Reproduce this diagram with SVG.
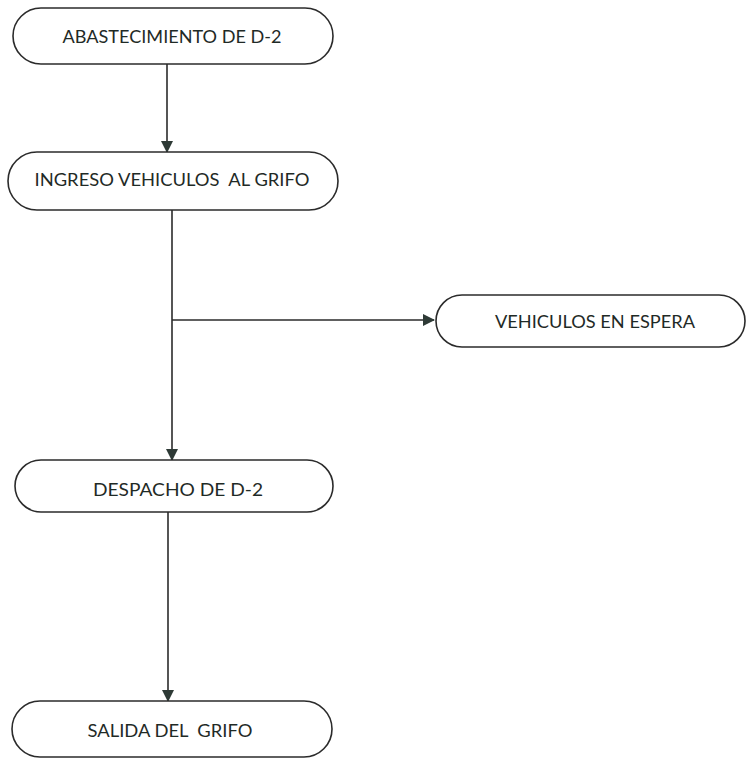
<svg xmlns="http://www.w3.org/2000/svg" width="747" height="760" viewBox="0 0 747 760">
<style>
.box{fill:#fff;stroke:#2b2b2b;stroke-width:1.6}
.lbl{font-family:Lato,"Open Sans","Liberation Sans",sans-serif;font-size:17px;fill:#1f2a26;text-anchor:middle}
.edge{stroke:#2b2b2b;stroke-width:1.6;fill:none}
</style>
<defs>
<marker id="ah" markerWidth="12" markerHeight="12" refX="11" refY="6" orient="auto" markerUnits="userSpaceOnUse">
<path d="M0,0 L12,6 L0,12 Z" fill="#2e3a36"/>
</marker>
</defs>
<rect width="747" height="760" fill="#fff"/>
<g id="connectors">
<line class="edge" x1="167" y1="64" x2="167" y2="152" marker-end="url(#ah)"/>
<line class="edge" x1="172" y1="210" x2="172" y2="460" marker-end="url(#ah)"/>
<line class="edge" x1="172" y1="320" x2="434" y2="320" marker-end="url(#ah)"/>
<line class="edge" x1="168" y1="512" x2="168" y2="701" marker-end="url(#ah)"/>
</g>
<g id="n1">
<rect class="box" x="13" y="8" width="320" height="56" rx="28"/>
<text class="lbl" x="172" y="43" textLength="219" lengthAdjust="spacingAndGlyphs">ABASTECIMIENTO DE D-2</text>
</g>
<g id="n2">
<rect class="box" x="8" y="152" width="330" height="58" rx="29"/>
<text class="lbl" x="172" y="186" textLength="275" lengthAdjust="spacingAndGlyphs" xml:space="preserve">INGRESO VEHICULOS  AL GRIFO</text>
</g>
<g id="n3">
<rect class="box" x="436" y="295" width="309" height="52" rx="26"/>
<text class="lbl" x="595" y="328" textLength="200" lengthAdjust="spacingAndGlyphs">VEHICULOS EN ESPERA</text>
</g>
<g id="n4">
<rect class="box" x="15" y="460" width="318" height="52" rx="26"/>
<text class="lbl" x="178" y="496" textLength="170" lengthAdjust="spacingAndGlyphs">DESPACHO DE D-2</text>
</g>
<g id="n5">
<rect class="box" x="12" y="701" width="320" height="56" rx="28"/>
<text class="lbl" x="170" y="737" textLength="165" lengthAdjust="spacingAndGlyphs" xml:space="preserve">SALIDA DEL  GRIFO</text>
</g>
</svg>
